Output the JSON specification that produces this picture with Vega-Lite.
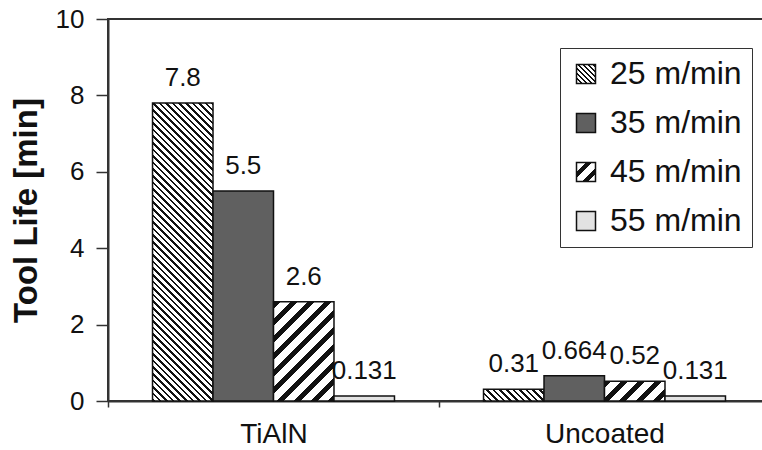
{
  "$schema": "https://vega.github.io/schema/vega-lite/v6.json",
  "width": 662,
  "height": 382,
  "autosize": {"type": "none"},
  "padding": {"left": 108, "top": 19, "right": -8, "bottom": 49},
  "background": "white",
  "params": [
    {"name": "stops25", "value": [
      {"offset":0,"color":"#111"},{"offset":0.0072,"color":"#111"},{"offset":0.0072,"color":"#fff"},{"offset":0.018,"color":"#fff"},
      {"offset":0.018,"color":"#111"},{"offset":0.0252,"color":"#111"},{"offset":0.0252,"color":"#fff"},{"offset":0.036,"color":"#fff"},
      {"offset":0.036,"color":"#111"},{"offset":0.0432,"color":"#111"},{"offset":0.0432,"color":"#fff"},{"offset":0.054,"color":"#fff"},
      {"offset":0.054,"color":"#111"},{"offset":0.0612,"color":"#111"},{"offset":0.0612,"color":"#fff"},{"offset":0.072,"color":"#fff"},
      {"offset":0.072,"color":"#111"},{"offset":0.0792,"color":"#111"},{"offset":0.0792,"color":"#fff"},{"offset":0.09,"color":"#fff"},
      {"offset":0.09,"color":"#111"},{"offset":0.0972,"color":"#111"},{"offset":0.0972,"color":"#fff"},{"offset":0.108,"color":"#fff"},
      {"offset":0.108,"color":"#111"},{"offset":0.1152,"color":"#111"},{"offset":0.1152,"color":"#fff"},{"offset":0.126,"color":"#fff"},
      {"offset":0.126,"color":"#111"},{"offset":0.1332,"color":"#111"},{"offset":0.1332,"color":"#fff"},{"offset":0.144,"color":"#fff"},
      {"offset":0.144,"color":"#111"},{"offset":0.1512,"color":"#111"},{"offset":0.1512,"color":"#fff"},{"offset":0.162,"color":"#fff"},
      {"offset":0.162,"color":"#111"},{"offset":0.1692,"color":"#111"},{"offset":0.1692,"color":"#fff"},{"offset":0.18,"color":"#fff"},
      {"offset":0.18,"color":"#111"},{"offset":0.1872,"color":"#111"},{"offset":0.1872,"color":"#fff"},{"offset":0.198,"color":"#fff"},
      {"offset":0.198,"color":"#111"},{"offset":0.2052,"color":"#111"},{"offset":0.2052,"color":"#fff"},{"offset":0.216,"color":"#fff"},
      {"offset":0.216,"color":"#111"},{"offset":0.2232,"color":"#111"},{"offset":0.2232,"color":"#fff"},{"offset":0.234,"color":"#fff"},
      {"offset":0.234,"color":"#111"},{"offset":0.2412,"color":"#111"},{"offset":0.2412,"color":"#fff"},{"offset":0.252,"color":"#fff"},
      {"offset":0.252,"color":"#111"},{"offset":0.2592,"color":"#111"},{"offset":0.2592,"color":"#fff"},{"offset":0.27,"color":"#fff"},
      {"offset":0.27,"color":"#111"},{"offset":0.2772,"color":"#111"},{"offset":0.2772,"color":"#fff"},{"offset":0.288,"color":"#fff"},
      {"offset":0.288,"color":"#111"},{"offset":0.2952,"color":"#111"},{"offset":0.2952,"color":"#fff"},{"offset":0.306,"color":"#fff"},
      {"offset":0.306,"color":"#111"},{"offset":0.3132,"color":"#111"},{"offset":0.3132,"color":"#fff"},{"offset":0.324,"color":"#fff"},
      {"offset":0.324,"color":"#111"},{"offset":0.3312,"color":"#111"},{"offset":0.3312,"color":"#fff"},{"offset":0.342,"color":"#fff"},
      {"offset":0.342,"color":"#111"},{"offset":0.3492,"color":"#111"},{"offset":0.3492,"color":"#fff"},{"offset":0.36,"color":"#fff"},
      {"offset":0.36,"color":"#111"},{"offset":0.3672,"color":"#111"},{"offset":0.3672,"color":"#fff"},{"offset":0.378,"color":"#fff"},
      {"offset":0.378,"color":"#111"},{"offset":0.3852,"color":"#111"},{"offset":0.3852,"color":"#fff"},{"offset":0.396,"color":"#fff"},
      {"offset":0.396,"color":"#111"},{"offset":0.4032,"color":"#111"},{"offset":0.4032,"color":"#fff"},{"offset":0.414,"color":"#fff"},
      {"offset":0.414,"color":"#111"},{"offset":0.4212,"color":"#111"},{"offset":0.4212,"color":"#fff"},{"offset":0.432,"color":"#fff"},
      {"offset":0.432,"color":"#111"},{"offset":0.4392,"color":"#111"},{"offset":0.4392,"color":"#fff"},{"offset":0.45,"color":"#fff"},
      {"offset":0.45,"color":"#111"},{"offset":0.4572,"color":"#111"},{"offset":0.4572,"color":"#fff"},{"offset":0.468,"color":"#fff"},
      {"offset":0.468,"color":"#111"},{"offset":0.4752,"color":"#111"},{"offset":0.4752,"color":"#fff"},{"offset":0.486,"color":"#fff"},
      {"offset":0.486,"color":"#111"},{"offset":0.4932,"color":"#111"},{"offset":0.4932,"color":"#fff"},{"offset":0.504,"color":"#fff"},
      {"offset":0.504,"color":"#111"},{"offset":0.5112,"color":"#111"},{"offset":0.5112,"color":"#fff"},{"offset":0.522,"color":"#fff"},
      {"offset":0.522,"color":"#111"},{"offset":0.5292,"color":"#111"},{"offset":0.5292,"color":"#fff"},{"offset":0.54,"color":"#fff"},
      {"offset":0.54,"color":"#111"},{"offset":0.5472,"color":"#111"},{"offset":0.5472,"color":"#fff"},{"offset":0.558,"color":"#fff"},
      {"offset":0.558,"color":"#111"},{"offset":0.5652,"color":"#111"},{"offset":0.5652,"color":"#fff"},{"offset":0.576,"color":"#fff"},
      {"offset":0.576,"color":"#111"},{"offset":0.5832,"color":"#111"},{"offset":0.5832,"color":"#fff"},{"offset":0.594,"color":"#fff"},
      {"offset":0.594,"color":"#111"},{"offset":0.6012,"color":"#111"},{"offset":0.6012,"color":"#fff"},{"offset":0.612,"color":"#fff"},
      {"offset":0.612,"color":"#111"},{"offset":0.6192,"color":"#111"},{"offset":0.6192,"color":"#fff"},{"offset":0.63,"color":"#fff"},
      {"offset":0.63,"color":"#111"},{"offset":0.6372,"color":"#111"},{"offset":0.6372,"color":"#fff"},{"offset":0.648,"color":"#fff"},
      {"offset":0.648,"color":"#111"},{"offset":0.6552,"color":"#111"},{"offset":0.6552,"color":"#fff"},{"offset":0.666,"color":"#fff"},
      {"offset":0.666,"color":"#111"},{"offset":0.6732,"color":"#111"},{"offset":0.6732,"color":"#fff"},{"offset":0.684,"color":"#fff"},
      {"offset":0.684,"color":"#111"},{"offset":0.6912,"color":"#111"},{"offset":0.6912,"color":"#fff"},{"offset":0.702,"color":"#fff"},
      {"offset":0.702,"color":"#111"},{"offset":0.7092,"color":"#111"},{"offset":0.7092,"color":"#fff"},{"offset":0.72,"color":"#fff"},
      {"offset":0.72,"color":"#111"},{"offset":0.7272,"color":"#111"},{"offset":0.7272,"color":"#fff"},{"offset":0.738,"color":"#fff"},
      {"offset":0.738,"color":"#111"},{"offset":0.7452,"color":"#111"},{"offset":0.7452,"color":"#fff"},{"offset":0.756,"color":"#fff"},
      {"offset":0.756,"color":"#111"},{"offset":0.7632,"color":"#111"},{"offset":0.7632,"color":"#fff"},{"offset":0.774,"color":"#fff"},
      {"offset":0.774,"color":"#111"},{"offset":0.7812,"color":"#111"},{"offset":0.7812,"color":"#fff"},{"offset":0.792,"color":"#fff"},
      {"offset":0.792,"color":"#111"},{"offset":0.7992,"color":"#111"},{"offset":0.7992,"color":"#fff"},{"offset":0.81,"color":"#fff"},
      {"offset":0.81,"color":"#111"},{"offset":0.8172,"color":"#111"},{"offset":0.8172,"color":"#fff"},{"offset":0.828,"color":"#fff"},
      {"offset":0.828,"color":"#111"},{"offset":0.8352,"color":"#111"},{"offset":0.8352,"color":"#fff"},{"offset":0.846,"color":"#fff"},
      {"offset":0.846,"color":"#111"},{"offset":0.8532,"color":"#111"},{"offset":0.8532,"color":"#fff"},{"offset":0.864,"color":"#fff"},
      {"offset":0.864,"color":"#111"},{"offset":0.8712,"color":"#111"},{"offset":0.8712,"color":"#fff"},{"offset":0.882,"color":"#fff"},
      {"offset":0.882,"color":"#111"},{"offset":0.8892,"color":"#111"},{"offset":0.8892,"color":"#fff"},{"offset":0.9,"color":"#fff"},
      {"offset":0.9,"color":"#111"},{"offset":0.9072,"color":"#111"},{"offset":0.9072,"color":"#fff"},{"offset":0.918,"color":"#fff"},
      {"offset":0.918,"color":"#111"},{"offset":0.9252,"color":"#111"},{"offset":0.9252,"color":"#fff"},{"offset":0.936,"color":"#fff"},
      {"offset":0.936,"color":"#111"},{"offset":0.9432,"color":"#111"},{"offset":0.9432,"color":"#fff"},{"offset":0.954,"color":"#fff"},
      {"offset":0.954,"color":"#111"},{"offset":0.9612,"color":"#111"},{"offset":0.9612,"color":"#fff"},{"offset":0.972,"color":"#fff"},
      {"offset":0.972,"color":"#111"},{"offset":0.9792,"color":"#111"},{"offset":0.9792,"color":"#fff"},{"offset":0.99,"color":"#fff"},
      {"offset":0.99,"color":"#111"},{"offset":0.9972,"color":"#111"},{"offset":0.9972,"color":"#fff"},{"offset":1,"color":"#fff"}
    ]},
    {"name": "stops45", "value": [
      {"offset":0,"color":"#111"},{"offset":0.042,"color":"#111"},{"offset":0.042,"color":"#fff"},{"offset":0.1,"color":"#fff"},
      {"offset":0.1,"color":"#111"},{"offset":0.142,"color":"#111"},{"offset":0.142,"color":"#fff"},{"offset":0.2,"color":"#fff"},
      {"offset":0.2,"color":"#111"},{"offset":0.242,"color":"#111"},{"offset":0.242,"color":"#fff"},{"offset":0.3,"color":"#fff"},
      {"offset":0.3,"color":"#111"},{"offset":0.342,"color":"#111"},{"offset":0.342,"color":"#fff"},{"offset":0.4,"color":"#fff"},
      {"offset":0.4,"color":"#111"},{"offset":0.442,"color":"#111"},{"offset":0.442,"color":"#fff"},{"offset":0.5,"color":"#fff"},
      {"offset":0.5,"color":"#111"},{"offset":0.542,"color":"#111"},{"offset":0.542,"color":"#fff"},{"offset":0.6,"color":"#fff"},
      {"offset":0.6,"color":"#111"},{"offset":0.642,"color":"#111"},{"offset":0.642,"color":"#fff"},{"offset":0.7,"color":"#fff"},
      {"offset":0.7,"color":"#111"},{"offset":0.742,"color":"#111"},{"offset":0.742,"color":"#fff"},{"offset":0.8,"color":"#fff"},
      {"offset":0.8,"color":"#111"},{"offset":0.842,"color":"#111"},{"offset":0.842,"color":"#fff"},{"offset":0.9,"color":"#fff"},
      {"offset":0.9,"color":"#111"},{"offset":0.942,"color":"#111"},{"offset":0.942,"color":"#fff"},{"offset":1,"color":"#fff"}
    ]}
  ],
  "data": {"values": [
    {"coating": "TiAlN", "speed": "25 m/min", "life": 7.8},
    {"coating": "TiAlN", "speed": "35 m/min", "life": 5.5},
    {"coating": "TiAlN", "speed": "45 m/min", "life": 2.6},
    {"coating": "TiAlN", "speed": "55 m/min", "life": 0.131},
    {"coating": "Uncoated", "speed": "25 m/min", "life": 0.31},
    {"coating": "Uncoated", "speed": "35 m/min", "life": 0.664},
    {"coating": "Uncoated", "speed": "45 m/min", "life": 0.52},
    {"coating": "Uncoated", "speed": "55 m/min", "life": 0.131}
  ]},
  "config": {
    "font": "Liberation Sans",
    "view": {"stroke": "#333", "strokeWidth": 2},
    "axis": {"grid": false, "domainColor": "#333", "domainWidth": 2, "tickColor": "#333", "tickWidth": 1.5, "labelColor": "#111", "titleColor": "#111"}
  },
  "encoding": {
    "x": {"field": "coating", "type": "nominal", "sort": null,
      "scale": {"paddingInner": 0, "paddingOuter": 0},
      "axis": {"title": null, "labelAngle": 0, "labelFontSize": 28, "tickBand": "extent", "tickSize": 6, "labelPadding": 13}},
    "xOffset": {"field": "speed", "type": "nominal", "sort": null, "scale": {"paddingInner": 0, "paddingOuter": 0.736}},
    "y": {"field": "life", "type": "quantitative", "scale": {"domain": [0, 10]},
      "axis": {"title": "Tool Life [min]", "values": [0, 2, 4, 6, 8, 10], "labelFontSize": 26, "titleFontSize": 33, "titleFontWeight": "bold", "tickSize": 12, "labelPadding": 12, "titlePadding": 12}}
  },
  "layer": [
    {
      "mark": {"type": "bar", "strokeWidth": 1.5, "opacity": 1,
        "fill": {"expr": "(datum.speed || datum.value) == '25 m/min' ? (isValid(datum.life) ? {gradient: 'linear', x1: 0, y1: 1, x2: 22182.7 / (3659.04 + pow(datum.life * 38.2, 2)), y2: 1 - 366.7 * datum.life * 38.2 / (3659.04 + pow(datum.life * 38.2, 2)), stops: stops25} : {gradient: 'linear', x1: 0, y1: 1, x2: 7.2, y2: -6.2, stops: stops25}) : (datum.speed || datum.value) == '45 m/min' ? (isValid(datum.life) ? {gradient: 'linear', x1: 0, y1: 0, x2: 10283.3 / (3659.04 + pow(datum.life * 38.2, 2)), y2: 170 * datum.life * 38.2 / (3659.04 + pow(datum.life * 38.2, 2)), stops: stops45} : {gradient: 'linear', x1: -0.55, y1: -0.55, x2: 3.4, y2: 3.4, stops: stops45}) : (datum.speed || datum.value) == '35 m/min' ? '#606060' : '#e2e2e2'"}},
      "encoding": {
        "stroke": {"field": "speed", "type": "nominal", "sort": null,
          "scale": {"range": ["#111", "#111", "#111", "#111"]},
          "legend": {"title": null, "orient": "none", "legendX": 452, "legendY": 29,
            "symbolType": "square", "symbolSize": 361, "symbolStrokeWidth": 1.5, "symbolOpacity": 1,
            "labelFontSize": 32, "labelOffset": 8, "labelColor": "#111",
            "padding": 10, "rowPadding": 17, "strokeColor": "#333", "fillColor": "white",
            "encode": {
              "legend": {"update": {"strokeWidth": {"value": 2}}}
            }
          }
        }
      }
    },
    {
      "mark": {"type": "text", "fontSize": 26, "baseline": "alphabetic", "dy": -17, "color": "#111"},
      "encoding": {"text": {"field": "life", "type": "quantitative", "format": "~g"}}
    }
  ]
}
